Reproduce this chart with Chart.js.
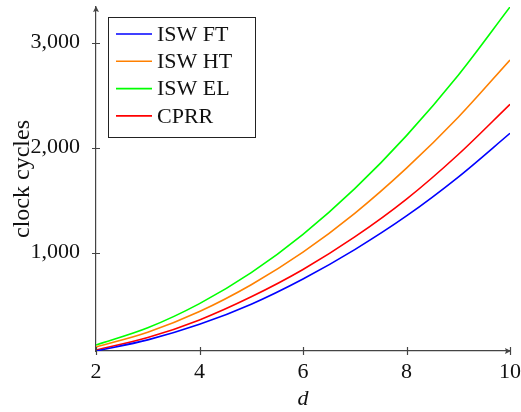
<!DOCTYPE html>
<html>
<head>
<meta charset="utf-8">
<script src="https://cdn.jsdelivr.net/npm/chart.js@4"></script>
<style>
  html, body { margin: 0; padding: 0; background: #fff; }
  #wrap { width: 521px; height: 412px; }
</style>
</head>
<body>
<div id="wrap"><canvas id="chart" width="521" height="412"></canvas></div>
<script>
// values, d = 2..10
const dValues = [2, 3, 4, 5, 6, 7, 8, 9, 10];
const iswFT = [64, 170, 318, 510, 750, 1030, 1350, 1720, 2137];
const iswHT = [102, 243, 440, 695, 1005, 1375, 1805, 2290, 2835];
const iswEL = [121, 285, 515, 810, 1175, 1610, 2115, 2690, 3340];
const cprr = [73, 192, 360, 580, 840, 1150, 1510, 1935, 2413];
const yTickValues = [1000, 2000, 3000];
const xTickValues = [2, 4, 6, 8, 10];

const serif = "'Liberation Serif', 'DejaVu Serif', serif";
const axisColor = "#444";

function series(label, values, color) {
  return {
    label: label,
    data: dValues.map((d, i) => ({ x: d, y: values[i] })),
    borderColor: color,
    backgroundColor: color,
    borderWidth: 1.6,
    pointRadius: 0,
    cubicInterpolationMode: "monotone",
    fill: false,
  };
}

// axis arrows, crossing tick marks and the boxed legend
const pgfLook = {
  id: "pgfLook",
  afterDraw(chart) {
    const ctx = chart.ctx;
    const xs = chart.scales.x;
    const ys = chart.scales.y;
    const left = chart.chartArea.left;
    const bottom = chart.chartArea.bottom;
    ctx.save();
    ctx.strokeStyle = axisColor;
    ctx.fillStyle = axisColor;
    ctx.lineWidth = 1.2;

    // tick marks
    ctx.beginPath();
    yTickValues.forEach((v) => {
      const y = Math.round(ys.getPixelForValue(v)) + 0.5;
      ctx.moveTo(left - 4, y);
      ctx.lineTo(left + 4, y);
    });
    xTickValues.forEach((v) => {
      const x = Math.round(xs.getPixelForValue(v)) + 0.5;
      ctx.moveTo(x, bottom - 4);
      ctx.lineTo(x, bottom + 4);
    });
    ctx.stroke();

    // arrow heads
    const right = xs.getPixelForValue(10);
    const top = chart.chartArea.top;
    ctx.beginPath();
    ctx.moveTo(right + 1, bottom);
    ctx.lineTo(right - 5, bottom - 3);
    ctx.lineTo(right - 4, bottom);
    ctx.lineTo(right - 5, bottom + 3);
    ctx.closePath();
    ctx.fill();
    ctx.beginPath();
    ctx.moveTo(left, top - 1);
    ctx.lineTo(left - 3, top + 5);
    ctx.lineTo(left, top + 4);
    ctx.lineTo(left + 3, top + 5);
    ctx.closePath();
    ctx.fill();

    // legend box
    const bx = 108.5, by = 17.5, bw = 147, bh = 120;
    ctx.fillStyle = "#fff";
    ctx.fillRect(bx, by, bw, bh);
    ctx.strokeStyle = "#222";
    ctx.lineWidth = 1;
    ctx.strokeRect(bx, by, bw, bh);
    ctx.font = "22px " + serif;
    ctx.textBaseline = "middle";
    chart.data.datasets.forEach((ds, i) => {
      const y = 34 + i * 27.3;
      ctx.strokeStyle = ds.borderColor;
      ctx.lineWidth = 1.6;
      ctx.beginPath();
      ctx.moveTo(116, y);
      ctx.lineTo(152, y);
      ctx.stroke();
      ctx.fillStyle = "#111";
      ctx.fillText(ds.label, 157, y + 1);
    });
    ctx.restore();
  },
};

new Chart(document.getElementById("chart"), {
  type: "line",
  data: {
    datasets: [
      series("ISW FT", iswFT, "#0000ff"),
      series("ISW HT", iswHT, "#ff8000"),
      series("ISW EL", iswEL, "#00ff00"),
      series("CPRR", cprr, "#ff0000"),
    ],
  },
  options: {
    responsive: false,
    animation: false,
    layout: { padding: { top: 7, right: 11, left: 0, bottom: 0 } },
    plugins: {
      legend: { display: false },
      tooltip: { enabled: false },
    },
    scales: {
      x: {
        type: "linear",
        min: 2,
        max: 10,
        afterBuildTicks: (scale) => {
          scale.ticks = xTickValues.map((v) => ({ value: v }));
        },
        afterFit: (scale) => {
          scale.height = 61;
          scale.paddingLeft = 0;
          scale.paddingRight = 0;
        },
        grid: { display: false },
        border: { display: true, color: axisColor, width: 1.2 },
        ticks: {
          color: "#111",
          font: { family: serif, size: 22 },
          padding: 0,
          maxRotation: 0,
        },
        title: {
          display: true,
          text: "d",
          color: "#111",
          font: { family: serif, size: 22, style: "italic" },
          padding: { top: 0, bottom: 0 },
        },
      },
      y: {
        type: "linear",
        min: 64,
        max: 3340,
        afterBuildTicks: (scale) => {
          scale.ticks = yTickValues.map((v) => ({ value: v }));
        },
        afterFit: (scale) => {
          scale.width = 96;
          scale.paddingTop = 0;
          scale.paddingBottom = 0;
        },
        grid: { display: false },
        border: { display: true, color: axisColor, width: 1.2 },
        ticks: {
          color: "#111",
          font: { family: serif, size: 22 },
          padding: 8,
          callback: (v) => v.toLocaleString("en-US"),
        },
        title: {
          display: true,
          text: "clock cycles",
          color: "#111",
          font: { family: serif, size: 24 },
          padding: { top: 8, bottom: 0 },
        },
      },
    },
  },
  plugins: [pgfLook],
});
</script>
</body>
</html>
